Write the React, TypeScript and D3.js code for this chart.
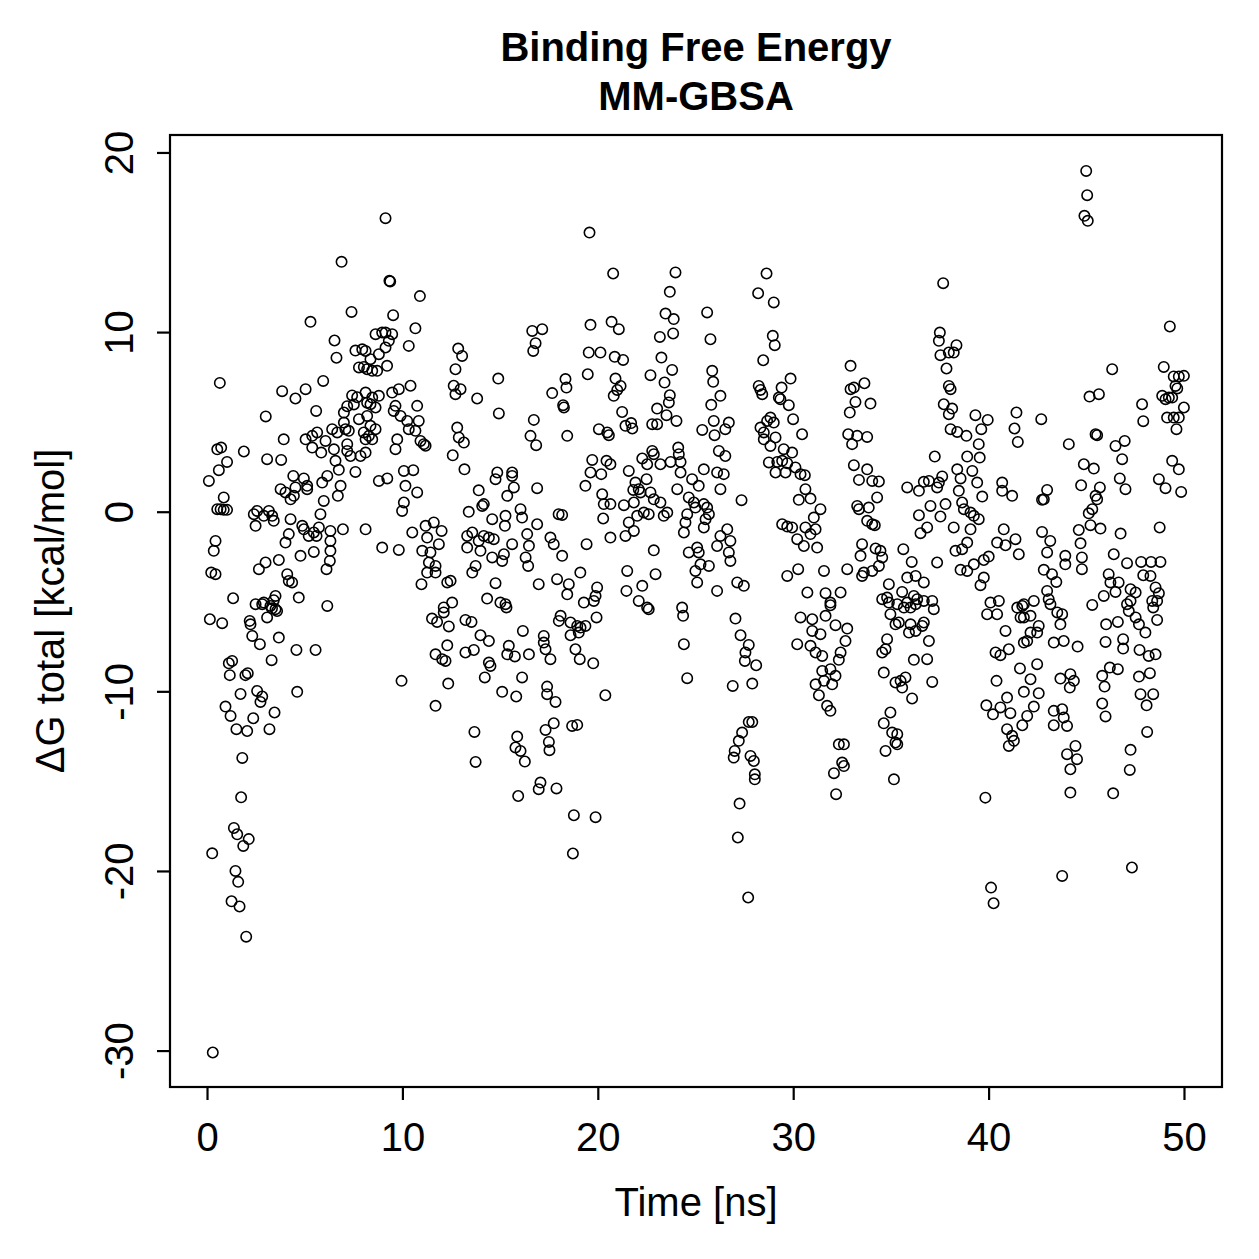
import { scaleLinear } from 'd3'

// Binding free energy (MM-GBSA) per frame: [time ns, dG kcal/mol]
const frames0to9 = [
  [6.86,13.94],[7.37,11.15],[5.27,10.6],[6.5,9.56],[6.6,8.6],[7.57,9.0],[7.92,9.07],[7.75,8.06],[8.0,8.09],[0.63,7.2],
  [3.82,6.74],[4.5,6.33],[5.02,6.85],[5.92,7.31],[2.98,5.33],[5.56,5.64],[7.4,6.5],[7.66,6.4],[7.15,5.9],[7.49,6.0],
  [6.98,5.55],[7.75,5.18],[8.17,6.1],[0.5,3.5],[0.7,3.6],[1.86,3.38],[1.0,2.8],[0.58,2.34],[0.07,1.74],[0.83,0.82],
  [0.5,0.17],[0.67,0.17],[0.83,0.13],[1.0,0.13],[0.41,-1.6],[0.32,-2.15],[0.19,-3.36],[0.41,-3.45],[1.31,-4.79],[3.9,4.06],
  [3.05,2.95],[3.77,2.91],[5.02,4.06],[5.36,4.25],[5.61,4.44],[5.36,3.6],[5.82,3.32],[6.04,3.97],[6.38,4.62],[6.64,4.44],
  [6.98,4.99],[7.06,4.62],[7.23,4.53],[6.47,3.5],[6.55,2.86],[6.72,2.36],[7.15,3.79],[7.15,3.41],[7.32,3.13],[7.83,3.13],
  [7.57,2.24],[8.0,4.44],[8.09,4.06],[4.39,2.02],[4.93,1.88],[5.1,1.28],[4.5,1.38],[4.25,0.72],[3.74,1.28],[3.99,1.1],
  [4.42,0.91],[5.1,1.47],[5.87,1.65],[6.13,2.02],[6.81,1.47],[6.67,0.91],[5.95,0.63],[5.78,-0.11],[6.93,-0.95],[8.09,-0.95],
  [4.25,-0.39],[4.85,-0.76],[4.93,-0.95],[5.18,-1.32],[5.44,-1.13],[5.7,-0.85],[5.58,-1.32],[2.37,-0.11],[2.54,0.07],[3.14,0.07],
  [3.31,-0.2],[3.39,-0.48],[2.46,-0.76],[2.88,-0.2],[4.16,-1.22],[3.99,-1.69],[4.76,-2.43],[5.44,-2.21],[6.29,-1.04],[6.29,-1.6],
  [6.29,-2.15],[6.26,-2.71],[6.09,-3.17],[2.63,-3.17],[2.97,-2.8],[3.65,-2.66],[4.08,-3.45],[4.16,-3.83],[4.33,-3.91],[3.48,-4.66],
  [2.88,-5.03],[2.46,-5.12],[3.22,-5.22],[4.67,-4.75],[6.13,-5.22],[2.8,-5.12],[3.3,-5.35],[3.48,-5.4],[3.56,-5.5],[3.05,-5.86],
  [3.39,-4.9],[0.12,-5.96],[0.75,-6.18],[2.16,-6.05],[2.2,-6.24],[2.29,-6.89],[2.68,-7.35],[3.65,-6.98],[3.28,-8.24],[4.55,-7.67],
  [5.53,-7.67],[1.09,-8.41],[1.26,-8.28],[1.14,-9.07],[1.94,-9.07],[2.06,-8.96],[1.69,-10.12],[2.54,-9.95],[2.8,-10.26],[2.71,-10.56],
  [3.43,-11.15],[4.59,-10.0],[0.92,-10.82],[1.18,-11.34],[2.34,-11.47],[1.48,-12.08],[2.03,-12.18],[3.17,-12.08],[1.78,-13.68],[1.72,-15.87],
  [1.35,-17.58],[1.52,-17.93],[2.11,-18.2],[1.83,-18.58],[0.24,-18.99],[1.43,-19.97],[1.57,-20.58],[1.23,-21.66],[1.64,-21.95],[1.98,-23.63],
  [0.27,-30.08],
]

const frames8to17 = [
  [9.11,16.37],[9.31,12.88],[9.35,12.85],[10.87,12.03],[9.5,10.97],[10.64,10.24],[8.6,9.91],[8.94,10.0],[9.11,10.0],[9.45,9.91],
  [9.28,9.54],[9.11,9.17],[8.77,8.8],[8.09,8.98],[8.34,8.52],[8.17,7.96],[8.43,7.87],[8.68,7.87],[9.19,8.15],[10.3,9.26],
  [8.09,6.66],[8.43,6.38],[8.77,6.48],[8.34,6.01],[8.6,5.83],[8.17,5.36],[8.34,4.81],[8.6,4.62],[8.26,4.25],[8.43,4.06],
  [8.09,3.32],[9.45,6.66],[9.79,6.85],[10.39,7.04],[9.62,5.92],[9.53,5.64],[9.88,5.36],[10.22,5.08],[10.3,4.62],[10.64,4.53],
  [10.73,5.92],[10.81,5.08],[9.71,4.06],[9.62,3.51],[10.9,3.97],[11.07,3.79],[11.16,3.7],[12.83,9.11],[13.03,8.7],[12.69,7.96],
  [12.6,7.04],[12.95,6.85],[12.69,6.57],[13.8,6.33],[14.88,7.44],[14.91,5.5],[12.78,4.71],[12.86,4.16],[13.12,3.88],[12.55,3.17],
  [13.15,2.39],[16.62,10.09],[17.13,10.19],[16.79,9.41],[16.67,8.98],[16.7,5.14],[16.53,4.25],[16.82,3.73],[16.87,1.34],[10.05,2.3],
  [10.53,2.34],[8.77,1.74],[9.2,1.88],[10.13,1.47],[10.73,1.1],[10.05,0.54],[9.96,0.07],[10.48,-1.13],[11.16,-0.76],[11.58,-0.57],
  [11.98,-1.04],[11.24,-1.41],[11.84,-1.78],[10.99,-2.15],[11.41,-2.24],[11.33,-2.8],[11.67,-2.99],[11.24,-3.36],[11.67,-3.36],[10.95,-4.01],
  [12.27,-3.91],[12.44,-3.82],[8.94,-1.97],[9.79,-2.1],[13.88,1.22],[14.06,0.35],[14.14,0.45],[13.37,0.02],[14.57,-0.39],[15.25,-0.2],
  [15.22,-0.76],[15.59,2.21],[15.59,2.02],[14.83,2.21],[14.74,1.84],[15.68,1.38],[15.34,0.91],[16.02,0.17],[16.1,-0.3],[13.29,-1.32],
  [13.55,-1.13],[13.88,-1.6],[14.14,-1.32],[14.4,-1.41],[14.65,-1.5],[13.97,-2.15],[13.29,-1.97],[14.57,-2.52],[15.08,-2.71],[15.17,-2.34],
  [15.59,-1.78],[16.36,-1.22],[16.45,-1.87],[16.28,-2.52],[16.41,-2.99],[16.87,-0.67],[16.95,-4.01],[13.72,-2.99],[13.55,-3.36],[14.74,-3.95],
  [14.31,-4.81],[14.99,-5.03],[15.25,-5.12],[12.52,-5.03],[12.09,-5.3],[12.09,-5.58],[11.49,-5.92],[11.75,-6.11],[12.35,-6.36],[13.2,-6.0],
  [13.51,-6.11],[15.3,-5.3],[13.97,-6.85],[14.4,-7.17],[12.27,-7.41],[11.67,-7.91],[12.01,-8.18],[12.18,-8.28],[13.2,-7.81],[13.63,-7.67],
  [14.4,-8.37],[14.48,-8.56],[14.19,-9.2],[15.42,-7.44],[15.34,-7.91],[15.73,-8.03],[16.45,-7.91],[16.14,-6.61],[16.1,-9.2],[15.08,-10.0],
  [15.8,-10.26],[9.93,-9.39],[12.32,-9.54],[11.67,-10.78],[13.66,-12.23],[13.72,-13.9],[15.85,-12.49],[15.76,-13.1],[16.02,-13.29],[16.24,-13.88],
  [17.04,-15.05],[16.95,-15.42],[15.9,-15.8],
]

const frames17to26 = [
  [19.55,15.57],[20.76,13.29],[23.95,13.35],[23.66,12.27],[23.44,11.06],[23.86,10.75],[23.15,9.76],[23.83,9.95],[23.23,8.61],[23.78,7.92],
  [22.67,7.63],[23.39,7.22],[23.66,6.51],[23.61,6.11],[23.01,5.77],[23.49,5.4],[24.0,5.08],[22.76,4.9],[23.01,4.9],[25.57,11.12],
  [25.74,9.63],[25.83,7.87],[25.88,7.26],[26.25,6.48],[25.78,5.98],[25.91,5.08],[25.32,4.58],[25.95,4.29],[26.17,3.41],[19.6,10.43],
  [20.68,10.6],[21.05,10.19],[19.51,8.89],[20.11,8.89],[20.84,8.65],[21.27,8.48],[19.46,7.68],[18.32,7.41],[18.37,6.94],[17.64,6.63],
  [18.2,5.96],[18.24,5.83],[20.88,7.44],[21.14,7.03],[20.97,6.81],[20.79,6.48],[21.22,5.58],[21.39,4.81],[21.68,4.96],[21.74,4.66],
  [20.03,4.62],[20.46,4.44],[20.54,4.29],[18.41,4.25],[19.69,2.91],[20.42,2.86],[20.62,2.67],[19.6,2.21],[20.15,2.12],[19.34,1.47],
  [21.56,2.3],[22.25,2.99],[22.5,2.67],[22.76,3.41],[22.84,3.23],[23.18,2.67],[23.7,2.8],[24.09,3.6],[24.12,3.23],[24.21,2.8],
  [24.21,2.21],[22.47,1.84],[21.9,1.65],[21.79,1.24],[22.07,1.28],[22.16,1.1],[22.67,1.1],[22.84,0.72],[23.18,0.54],[21.31,0.39],
  [20.2,1.0],[20.28,0.45],[20.62,0.45],[20.25,-0.35],[21.82,0.54],[21.99,-0.2],[21.56,-0.57],[21.39,-1.32],[21.82,-1.04],[22.33,-0.02],
  [22.58,-0.11],[23.35,-0.2],[23.53,-0.02],[24.04,1.28],[24.8,1.84],[25.14,1.47],[25.4,2.39],[24.63,0.82],[24.89,0.54],[24.97,0.26],
  [25.4,0.45],[25.57,0.26],[25.66,-0.11],[24.55,-0.11],[24.46,-0.57],[24.38,-1.13],[25.49,-0.39],[25.4,-0.85],[20.62,-1.41],[19.4,-1.78],
  [22.84,-2.12],[17.55,-1.41],[17.72,-1.78],[18.15,-2.43],[17.97,-0.11],[18.15,-0.15],[26.08,2.21],[26.25,1.28],[26.25,-1.32],[26.08,-1.88],
  [21.48,-3.27],[22.93,-3.45],[22.25,-4.1],[21.44,-4.38],[22.07,-4.94],[22.5,-5.31],[24.29,-5.31],[24.97,-3.27],[25.06,-3.91],[25.66,-2.99],
  [25.23,-2.9],[24.63,-2.24],[25.06,-1.97],[25.14,-2.24],[26.08,-4.38],[19.08,-3.36],[17.89,-3.73],[18.49,-4.01],[18.41,-4.57],[19.94,-4.19],
  [19.86,-4.66],[19.26,-5.03],[18.07,-5.77],[17.98,-6.05],[18.58,-6.14],[18.92,-6.33],[19.09,-6.42],[19.34,-6.33],[19.0,-6.7],[18.58,-6.85],
  [19.91,-5.86],[19.77,-4.94],[22.58,-5.4],[24.34,-5.77],[24.38,-7.35],[24.55,-9.24],[17.21,-6.89],[17.21,-7.26],[17.3,-7.63],[17.55,-8.18],
  [18.83,-7.63],[19.05,-8.18],[19.74,-8.41],[17.38,-9.71],[17.38,-10.13],[17.81,-10.56],[20.36,-10.19],[17.72,-11.75],[17.3,-12.12],[18.66,-11.9],
  [18.92,-11.84],[17.47,-12.79],[17.5,-13.25],[17.86,-15.38],[18.75,-16.87],[19.86,-16.98],[18.7,-19.0],
]

const frames26to35 = [
  [28.61,13.29],[28.18,12.19],[28.98,11.68],[28.93,9.82],[29.03,9.3],[28.44,8.46],[29.84,7.44],[29.38,6.94],[28.21,7.03],[28.3,6.81],
  [28.39,6.57],[29.24,6.38],[29.32,6.29],[29.75,5.96],[29.97,5.18],[30.43,4.34],[28.81,5.27],[28.64,5.08],[28.98,4.99],[28.3,4.71],
  [28.47,4.44],[28.47,4.06],[29.07,4.16],[28.81,3.69],[29.49,3.51],[29.92,3.32],[28.73,2.77],[29.16,2.8],[29.41,2.86],[29.67,2.73],
  [30.09,2.49],[29.07,2.21],[29.58,2.21],[30.35,2.12],[30.57,2.06],[30.6,1.28],[30.86,0.76],[30.26,0.69],[31.37,0.17],[31.03,-0.3],
  [30.6,-0.85],[31.12,-0.95],[30.86,-1.22],[30.18,-1.5],[30.52,-1.88],[31.2,-1.97],[29.41,-0.67],[29.67,-0.8],[29.92,-0.85],[26.68,4.99],
  [26.5,4.62],[26.5,3.13],[26.42,2.12],[27.33,0.67],[26.6,-0.95],[26.76,-1.6],[26.68,-2.24],[26.76,-2.71],[27.11,-3.91],[27.45,-4.1],
  [32.91,8.15],[33.08,6.94],[32.91,6.85],[33.62,7.18],[33.16,6.14],[33.93,6.05],[32.87,5.55],[32.79,4.34],[32.99,3.79],[33.25,4.25],
  [33.76,4.19],[33.08,2.62],[33.76,2.39],[33.34,1.8],[34.02,1.74],[34.36,1.71],[34.27,0.82],[33.84,0.26],[33.34,0.17],[33.25,0.35],
  [33.76,-0.48],[34.02,-0.67],[34.15,-0.72],[33.5,-1.78],[33.42,-2.43],[34.19,-2.02],[34.44,-2.15],[34.53,-2.52],[34.36,-2.99],[34.02,-3.27],
  [33.59,-3.36],[33.5,-3.55],[32.74,-3.17],[31.55,-3.27],[30.7,-4.47],[31.63,-4.51],[31.88,-5.03],[32.4,-4.47],[29.67,-3.55],[30.23,-3.17],
  [34.87,-4.01],[34.78,-4.75],[34.87,-5.03],[27.02,-5.92],[27.28,-6.85],[27.7,-7.39],[27.53,-7.81],[27.5,-8.28],[28.08,-8.52],[26.88,-9.67],
  [27.88,-9.54],[27.7,-11.68],[27.88,-11.68],[27.36,-12.27],[27.19,-12.73],[26.98,-13.29],[26.93,-13.66],[27.79,-13.57],[27.96,-13.85],[28.01,-14.59],
  [28.01,-14.87],[27.23,-16.22],[27.14,-18.11],[27.67,-21.45],[30.35,-5.86],[30.95,-5.96],[31.88,-5.18],[31.63,-5.77],[30.95,-6.61],[31.37,-6.79],
  [32.14,-6.29],[32.74,-6.48],[32.65,-7.17],[30.18,-7.35],[30.86,-7.44],[31.12,-7.81],[31.46,-8.0],[32.4,-7.81],[32.31,-8.22],[31.46,-8.84],
  [31.88,-8.74],[32.14,-9.11],[31.12,-9.58],[31.55,-9.39],[31.97,-9.58],[31.29,-10.19],[31.71,-10.78],[31.88,-11.06],[32.31,-12.92],[32.57,-12.92],
  [32.48,-13.94],[32.57,-14.13],[32.06,-14.53],[32.17,-15.7],[34.53,-4.84],[34.95,-5.68],[35.21,-6.24],[34.78,-7.07],[34.53,-7.81],[34.7,-7.63],
  [34.61,-8.93],[35.21,-9.48],[34.95,-11.15],[34.61,-11.75],[35.04,-12.27],[35.21,-12.82],[34.7,-13.29],[35.13,-14.87],
]

const frames35to44 = [
  [37.65,12.75],[37.48,10.0],[37.43,9.54],[38.33,9.3],[37.51,8.74],[37.94,8.89],[38.19,8.89],[37.82,8.0],[37.94,7.03],[38.03,6.85],
  [37.68,6.01],[38.11,5.77],[37.94,5.46],[38.03,4.62],[38.37,4.47],[38.84,4.25],[39.3,5.4],[39.93,5.14],[39.6,4.62],[39.47,3.79],
  [41.4,5.55],[41.3,4.66],[41.47,3.91],[42.67,5.18],[44.08,3.79],[37.22,3.1],[38.88,3.1],[39.52,3.04],[38.37,2.39],[39.14,2.3],
  [38.54,1.88],[39.39,1.65],[37.6,1.99],[37.43,1.65],[36.92,1.74],[36.66,1.69],[37.34,1.38],[35.81,1.38],[36.41,1.19],[38.45,1.19],
  [39.65,0.87],[40.67,1.65],[40.67,1.19],[41.18,0.91],[42.97,1.24],[42.71,0.69],[42.8,0.72],[37.0,0.35],[37.77,0.45],[38.62,0.54],
  [38.71,0.17],[39.05,-0.02],[39.22,-0.2],[39.47,-0.39],[36.41,-0.17],[37.51,-0.24],[38.19,-0.85],[36.83,-0.85],[36.49,-1.17],[39.05,-0.95],
  [40.75,-0.95],[42.71,-1.1],[43.13,-1.6],[42.97,-2.24],[41.35,-1.5],[40.41,-1.69],[40.84,-1.84],[41.52,-2.34],[35.61,-2.06],[36.04,-2.77],
  [37.34,-2.8],[38.28,-2.15],[38.88,-1.69],[38.62,-2.06],[39.98,-2.47],[39.73,-2.66],[39.22,-2.9],[38.88,-3.27],[38.54,-3.21],[39.73,-3.64],
  [39.56,-4.06],[43.9,-2.43],[43.9,-2.9],[42.8,-3.21],[43.22,-3.45],[43.44,-3.88],[35.81,-3.64],[36.24,-3.55],[36.66,-3.91],[35.55,-4.44],
  [36.15,-4.66],[37.09,-4.94],[40.07,-5.03],[40.5,-4.94],[41.78,-5.12],[42.29,-4.94],[42.97,-4.38],[43.05,-4.84],[35.3,-5.12],[35.64,-5.31],
  [35.81,-5.03],[35.98,-5.31],[36.24,-5.12],[36.32,-4.84],[36.66,-4.94],[37.17,-5.4],[35.38,-6.14],[35.98,-6.24],[35.9,-6.7],[36.24,-6.61],
  [36.58,-6.33],[36.66,-6.14],[36.92,-7.17],[36.15,-8.22],[36.83,-8.18],[37.09,-9.45],[35.47,-9.39],[35.72,-9.2],[35.55,-9.76],[36.06,-10.37],
  [35.3,-12.36],[35.3,-12.92],[39.9,-5.68],[40.41,-5.68],[40.84,-6.61],[41.44,-5.31],[41.7,-5.22],[41.61,-5.86],[41.78,-5.86],[42.12,-5.77],
  [43.14,-5.12],[43.49,-5.58],[43.74,-5.68],[43.65,-6.24],[42.54,-6.33],[42.46,-6.7],[42.12,-6.7],[41.78,-7.26],[41.95,-7.17],[43.31,-7.26],
  [43.82,-7.17],[40.33,-7.81],[40.58,-7.96],[41.01,-7.63],[41.58,-8.7],[42.46,-8.46],[42.12,-9.3],[40.38,-9.39],[41.78,-10.0],[42.54,-10.08],
  [43.65,-9.26],[44.16,-9.02],[44.13,-9.76],[39.86,-10.75],[40.2,-11.25],[40.58,-10.87],[40.92,-10.32],[41.09,-11.19],[42.29,-10.82],[41.95,-11.34],
  [41.7,-11.86],[43.31,-11.06],[43.31,-11.86],[43.82,-11.43],[43.99,-11.9],[40.92,-12.08],[41.18,-12.45],[41.27,-12.73],[41.01,-13.01],[43.99,-13.47],
  [44.16,-14.31],[44.16,-15.61],[39.81,-15.89],[40.1,-20.9],[40.23,-21.77],[43.74,-20.25],
]

const frames44to50 = [
  [44.97,19.0],[45.02,17.65],[44.88,16.5],[45.05,16.22],[49.25,10.34],[46.3,7.96],[48.94,8.09],[49.45,7.56],[49.71,7.56],[49.97,7.59],
  [49.54,7.03],[49.63,6.89],[48.86,6.48],[49.03,6.29],[49.2,6.38],[49.37,6.38],[49.97,5.83],[49.11,5.27],[49.45,5.27],[49.71,5.27],
  [49.59,4.62],[47.83,6.01],[47.89,5.07],[45.14,6.44],[45.62,6.57],[45.45,4.34],[45.53,4.29],[46.47,3.69],[46.94,3.97],[46.81,2.95],
  [44.85,2.67],[45.36,2.43],[44.71,1.5],[45.67,1.38],[45.45,0.91],[45.53,0.72],[45.28,0.17],[45.1,-0.06],[45.19,-0.72],[45.7,-0.91],
  [44.59,-0.99],[44.68,-1.73],[46.73,-1.19],[46.69,1.88],[46.98,1.28],[48.69,1.84],[49.03,1.34],[49.37,2.86],[49.71,2.39],[49.83,1.13],
  [48.73,-0.85],[44.75,-2.52],[44.75,-3.17],[46.38,-2.34],[47.06,-2.84],[47.78,-2.77],[48.29,-2.77],[48.77,-2.77],[47.89,-3.51],[48.26,-3.55],
  [46.12,-3.45],[46.21,-3.91],[46.63,-3.91],[46.47,-4.44],[45.87,-4.66],[45.28,-5.16],[47.24,-4.29],[47.5,-4.47],[47.24,-4.94],[48.35,-4.94],
  [48.52,-4.19],[48.69,-4.51],[47.06,-5.12],[47.15,-5.5],[47.5,-5.86],[47.67,-6.24],[48.0,-6.7],[48.6,-6.0],[48.4,-5.3],[48.6,-4.94],
  [45.99,-6.24],[46.59,-6.11],[45.96,-7.22],[46.86,-7.07],[46.86,-7.59],[47.7,-7.67],[48.17,-8.0],[48.52,-7.91],[44.53,-7.48],[45.79,-9.11],
  [46.18,-8.65],[46.59,-8.74],[45.91,-9.71],[47.67,-9.15],[48.23,-8.96],[47.75,-10.13],[48.4,-10.13],[48.06,-10.75],[45.79,-10.65],[45.96,-11.37],
  [48.09,-12.23],[44.34,-9.39],[43.74,-10.97],[44.42,-13.01],[44.5,-13.75],[47.24,-13.23],[47.2,-14.35],[46.35,-15.65],[47.31,-19.78],
]

const xTicks = [0, 10, 20, 30, 40, 50]
const yTicks = [-30, -20, -10, 0, 10, 20]
const titleLines = ['Binding Free Energy', 'MM-GBSA']
const xLabel = 'Time [ns]'
const yLabel = 'ΔG total [kcal/mol]'

const width = 1259
const height = 1259
const box = { left: 170, right: 1222, top: 135, bottom: 1087 }
const tickLen = 13
const font = '"Liberation Sans", Arial, Helvetica, sans-serif'

const App = () => {
  const data = [
    ...frames0to9,
    ...frames8to17,
    ...frames17to26,
    ...frames26to35,
    ...frames35to44,
    ...frames44to50,
  ]

  const xScale = scaleLinear().domain([-1.92, 51.92]).range([box.left, box.right])
  const yScale = scaleLinear().domain([-32.0, 21.0]).range([box.bottom, box.top])

  const midX = (box.left + box.right) / 2
  const midY = (box.top + box.bottom) / 2

  return (
    <svg
      width={width}
      height={height}
      style={{ position: 'absolute', left: 0, top: 0, background: '#fff' }}
      fontFamily={font}
    >
      <rect x={0} y={0} width={width} height={height} fill="#fff" />

      {titleLines.map((t, i) => (
        <text
          key={t}
          x={midX}
          y={61 + i * 49}
          textAnchor="middle"
          fontSize={40}
          fontWeight="bold"
        >
          {t}
        </text>
      ))}

      {data.map(([t, g], i) => (
        <circle
          key={i}
          cx={xScale(t)}
          cy={yScale(g)}
          r={5.2}
          fill="none"
          stroke="#000"
          strokeWidth={1.6}
        />
      ))}

      <rect
        x={box.left}
        y={box.top}
        width={box.right - box.left}
        height={box.bottom - box.top}
        fill="none"
        stroke="#000"
        strokeWidth={2.2}
      />

      {/* x axis */}
      {xTicks.map((d) => (
        <g key={d}>
          <line
            x1={xScale(d)}
            x2={xScale(d)}
            y1={box.bottom}
            y2={box.bottom + tickLen}
            stroke="#000"
            strokeWidth={2.2}
          />
          <text x={xScale(d)} y={1151} textAnchor="middle" fontSize={40}>
            {d}
          </text>
        </g>
      ))}
      <text x={midX} y={1216} textAnchor="middle" fontSize={40}>
        {xLabel}
      </text>

      {/* y axis */}
      {yTicks.map((d) => (
        <g key={d}>
          <line
            x1={box.left}
            x2={box.left - tickLen}
            y1={yScale(d)}
            y2={yScale(d)}
            stroke="#000"
            strokeWidth={2.2}
          />
          <text
            transform={`translate(133,${yScale(d)}) rotate(-90)`}
            textAnchor="middle"
            fontSize={40}
          >
            {d}
          </text>
        </g>
      ))}
      <text
        transform={`translate(64,${midY}) rotate(-90)`}
        textAnchor="middle"
        fontSize={40}
      >
        {yLabel}
      </text>
    </svg>
  )
}

export default App
